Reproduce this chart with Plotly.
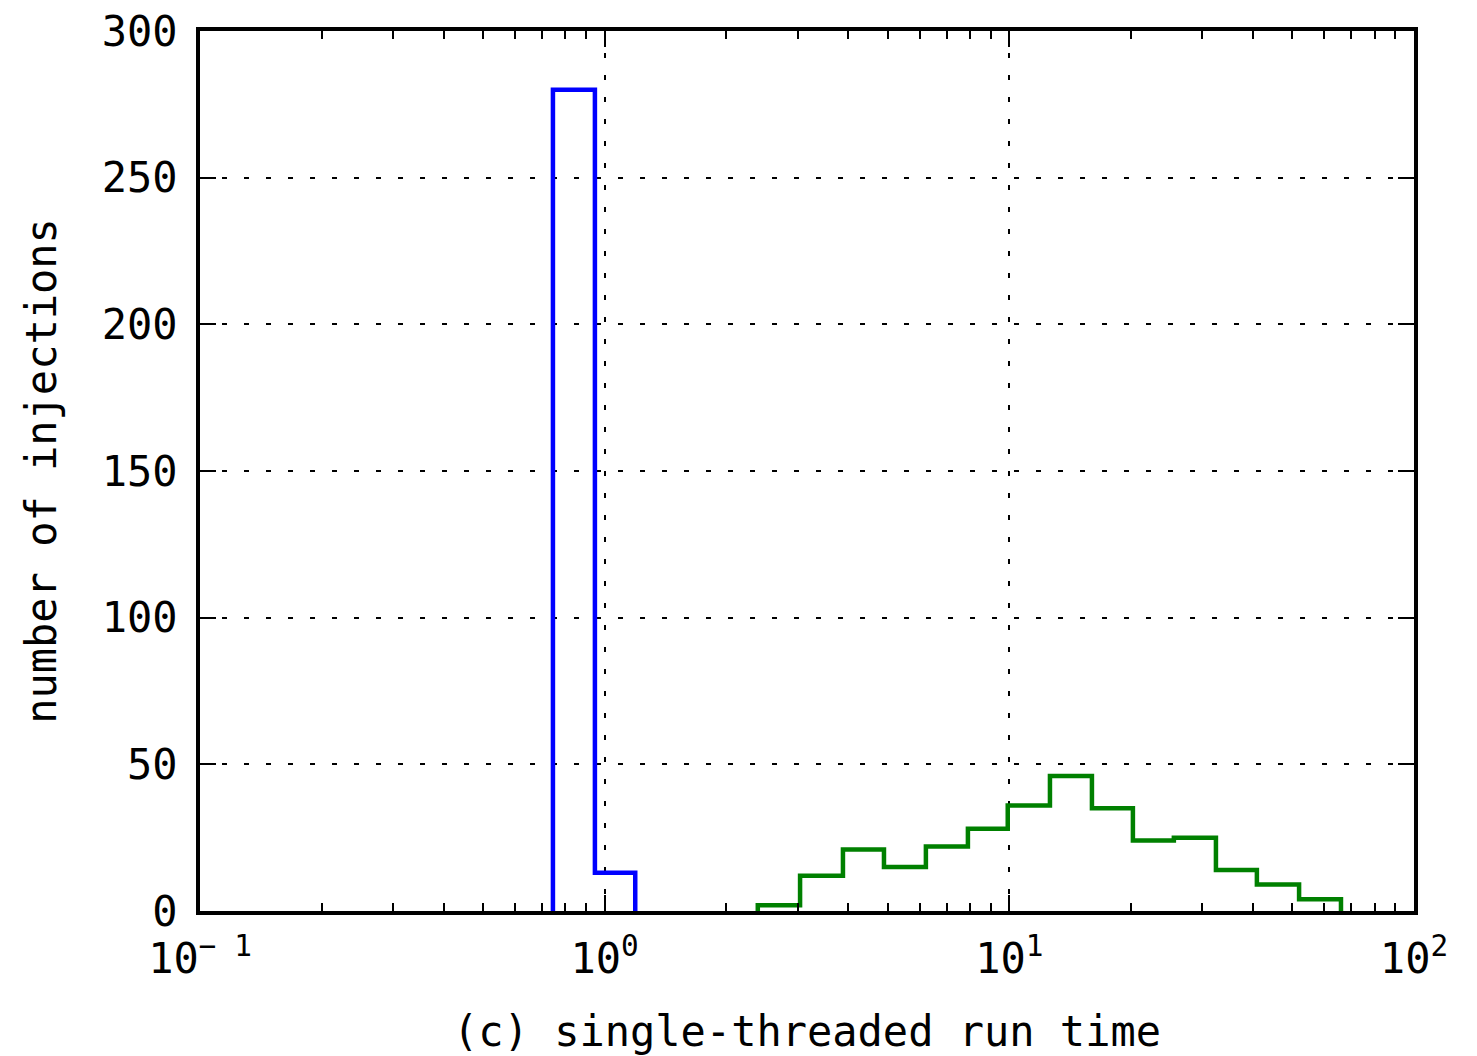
import numpy as np
import plotly.graph_objects as go

# Histogram bin edges (seconds, log-spaced) and counts per bin
blue_edges = [0.745, 0.946, 1.19]
blue_counts = [280, 13]

green_edges = [2.39, 3.04, 3.88, 4.90, 6.22, 7.90, 9.91, 12.6, 16.0,
               20.2, 25.5, 32.4, 40.9, 52.0, 66.0]
green_counts = [2, 12, 21, 15, 22, 28, 36, 46, 35, 24, 25, 14, 9, 4]

x_tickvals = [0.1, 1, 10, 100]
x_ticktext = ["10<sup>− 1</sup>", "10<sup>0</sup>", "10<sup>1</sup>", "10<sup>2</sup>"]
y_tickvals = [0, 50, 100, 150, 200, 250, 300]
y_ticktext = ["0", "50", "100", "150", "200", "250", "300"]

FONT = "DejaVu Sans Mono"


def step_outline(edges, counts):
    """Vertices of a step-histogram outline (closed down to zero at both ends)."""
    xs, ys = [edges[0]], [0]
    for i, c in enumerate(counts):
        xs += [edges[i], edges[i + 1]]
        ys += [c, c]
    xs.append(edges[-1])
    ys.append(0)
    return xs, ys


fig = go.Figure()
for edges, counts, color in [(blue_edges, blue_counts, "#0000ff"),
                             (green_edges, green_counts, "#008000")]:
    xs, ys = step_outline(edges, counts)
    fig.add_trace(go.Scatter(x=xs, y=ys, mode="lines",
                             line=dict(color=color, width=4.5),
                             showlegend=False, hoverinfo="skip"))

minor_x = [m * 10.0 ** d for d in (-1, 0, 1) for m in range(2, 10)]

fig.update_layout(
    width=1477, height=1056,
    margin=dict(l=200, r=63, t=31, b=145),
    paper_bgcolor="white", plot_bgcolor="white",
    font=dict(family=FONT, size=42, color="black"),
    xaxis=dict(
        type="log", range=[-1, 2], automargin=False,
        tickmode="array", tickvals=x_tickvals, ticktext=x_ticktext,
        ticks="inside", ticklen=16, tickwidth=2, tickcolor="black",
        ticklabelstandoff=8,
        showline=True, linewidth=4, linecolor="black", mirror="allticks",
        showgrid=True, gridcolor="black", gridwidth=2, griddash="5px,17px",
        zeroline=False,
        minor=dict(tickmode="array", tickvals=minor_x, ticks="inside",
                   ticklen=8, tickwidth=2, tickcolor="black", showgrid=False),
        title=dict(text="(c) single-threaded run time", standoff=40,
                   font=dict(family=FONT, size=42)),
        tickfont=dict(family=FONT, size=42),
    ),
    yaxis=dict(
        range=[0, 300], automargin=False,
        tickmode="array", tickvals=y_tickvals, ticktext=y_ticktext,
        ticks="inside", ticklen=16, tickwidth=2, tickcolor="black",
        ticklabelstandoff=10,
        showline=True, linewidth=4, linecolor="black", mirror="allticks",
        showgrid=True, gridcolor="black", gridwidth=2, griddash="5px,17px",
        zeroline=False,
        title=dict(text="number of injections", standoff=33,
                   font=dict(family=FONT, size=42)),
        tickfont=dict(family=FONT, size=42),
    ),
)

fig.write_html("out.html")
